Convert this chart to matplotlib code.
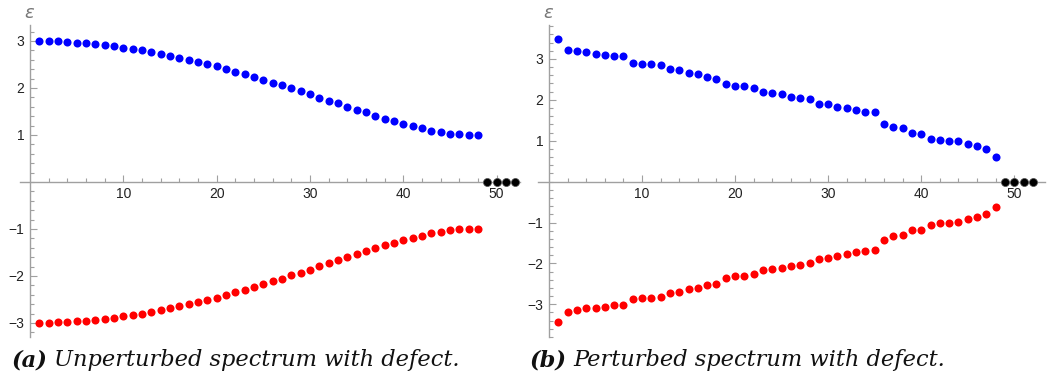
import numpy as np
import matplotlib
matplotlib.use("Agg")
import matplotlib.pyplot as plt
from matplotlib.ticker import MultipleLocator, FixedLocator

# unperturbed spectrum: positive band (negative band mirrors it)
idx = np.arange(1, 49)
eps_a_pos = [3.00, 3.00, 2.99, 2.98, 2.96, 2.95, 2.94, 2.91, 2.89, 2.86,
             2.83, 2.80, 2.76, 2.73, 2.69, 2.64, 2.59, 2.55, 2.51, 2.46,
             2.40, 2.35, 2.29, 2.23, 2.17, 2.11, 2.06, 1.99, 1.93, 1.87,
             1.79, 1.73, 1.67, 1.60, 1.54, 1.48, 1.41, 1.35, 1.29, 1.24,
             1.19, 1.14, 1.09, 1.06, 1.03, 1.01, 1.00, 1.00]
eps_a_neg = [-v for v in eps_a_pos]

# perturbed spectrum
eps_b_pos = [3.48, 3.21, 3.19, 3.17, 3.12, 3.10, 3.08, 3.07, 2.91, 2.88,
             2.87, 2.85, 2.76, 2.72, 2.66, 2.64, 2.55, 2.52, 2.39, 2.35,
             2.33, 2.30, 2.19, 2.16, 2.15, 2.08, 2.05, 2.02, 1.91, 1.89,
             1.83, 1.79, 1.75, 1.70, 1.70, 1.42, 1.34, 1.31, 1.20, 1.17,
             1.04, 1.01, 0.99, 0.99, 0.91, 0.87, 0.79, 0.60]
eps_b_neg = [-3.43, -3.18, -3.14, -3.10, -3.08, -3.06, -3.02, -3.02, -2.87, -2.85,
             -2.84, -2.81, -2.73, -2.69, -2.63, -2.60, -2.53, -2.50, -2.36, -2.32,
             -2.31, -2.27, -2.17, -2.14, -2.12, -2.06, -2.04, -2.00, -1.90, -1.88,
             -1.82, -1.78, -1.73, -1.69, -1.68, -1.42, -1.33, -1.31, -1.19, -1.18,
             -1.05, -1.02, -1.00, -0.99, -0.91, -0.87, -0.80, -0.61]

# zero modes from the defect
idx_zero = [49, 50, 51, 52]
eps_zero = [0, 0, 0, 0]

W, H = 1048, 391
fig = plt.figure(figsize=(W / 100, H / 100), dpi=100)
plt.rcParams['font.family'] = 'Liberation Sans'

axis_gray = '#a0a0a0'


def make_axes(left, right, top, bottom):
    return fig.add_axes([left / W, (H - bottom) / H, (right - left) / W, (bottom - top) / H])


def style(ax, xlim, ylim):
    ax.set_xlim(*xlim)
    ax.set_ylim(*ylim)
    for s in ['top', 'right']:
        ax.spines[s].set_visible(False)
    for s in ['left', 'bottom']:
        ax.spines[s].set_position('zero')
        ax.spines[s].set_color(axis_gray)
        ax.spines[s].set_linewidth(1.0)
    ax.xaxis.set_major_locator(FixedLocator([10, 20, 30, 40, 50]))
    ax.xaxis.set_minor_locator(FixedLocator([x for x in range(2, 53, 2) if x % 10]))
    ax.yaxis.set_major_locator(FixedLocator([-3, -2, -1, 1, 2, 3]))
    ax.yaxis.set_minor_locator(MultipleLocator(0.2))
    ax.tick_params(which='both', direction='in', color=axis_gray, labelsize=10,
                   labelcolor='#222222', width=0.8)
    ax.tick_params(which='major', length=5)
    ax.tick_params(which='minor', length=3)
    ax.tick_params(axis='x', pad=4)
    ax.tick_params(axis='y', pad=4)
    ax.annotate(r'$\epsilon$', xy=(0, 1), xycoords=('data', 'axes fraction'),
                xytext=(0, 8), textcoords='offset points', ha='center', va='center',
                fontsize=13, color='#777777')


ms = 5.8

ax1 = make_axes(20, 520, 25, 337)
style(ax1, (-1.07, 52.5), (-3.3, 3.34))
ax1.plot(idx, eps_a_pos, 'o', color='blue', ms=ms, mec='none', clip_on=False)
ax1.plot(idx, eps_a_neg, 'o', color='red', ms=ms, mec='none', clip_on=False)
ax1.plot(idx_zero, eps_zero, 'o', color='black', ms=ms, mec='#555555', mew=0.5,
         clip_on=False, zorder=5)

ax2 = make_axes(538, 1045, 25, 337)
style(ax2, (-1.18, 53.3), (-3.8, 3.83))
ax2.plot(idx, eps_b_pos, 'o', color='blue', ms=ms, mec='none', clip_on=False)
ax2.plot(idx, eps_b_neg, 'o', color='red', ms=ms, mec='none', clip_on=False)
ax2.plot(idx_zero, eps_zero, 'o', color='black', ms=ms, mec='#555555', mew=0.5,
         clip_on=False, zorder=5)

# captions
cap = dict(family='DejaVu Serif', style='italic', fontsize=16.2, color='#111111', va='baseline')
fig.text(12 / W, 1 - 366 / H, '(a)', weight='bold', **cap)
fig.text(54 / W, 1 - 366 / H, 'Unperturbed spectrum with defect.', **cap)
fig.text(530 / W, 1 - 366 / H, '(b)', weight='bold', **cap)
fig.text(573 / W, 1 - 366 / H, 'Perturbed spectrum with defect.', **cap)

fig.savefig('out.png', dpi=100)
